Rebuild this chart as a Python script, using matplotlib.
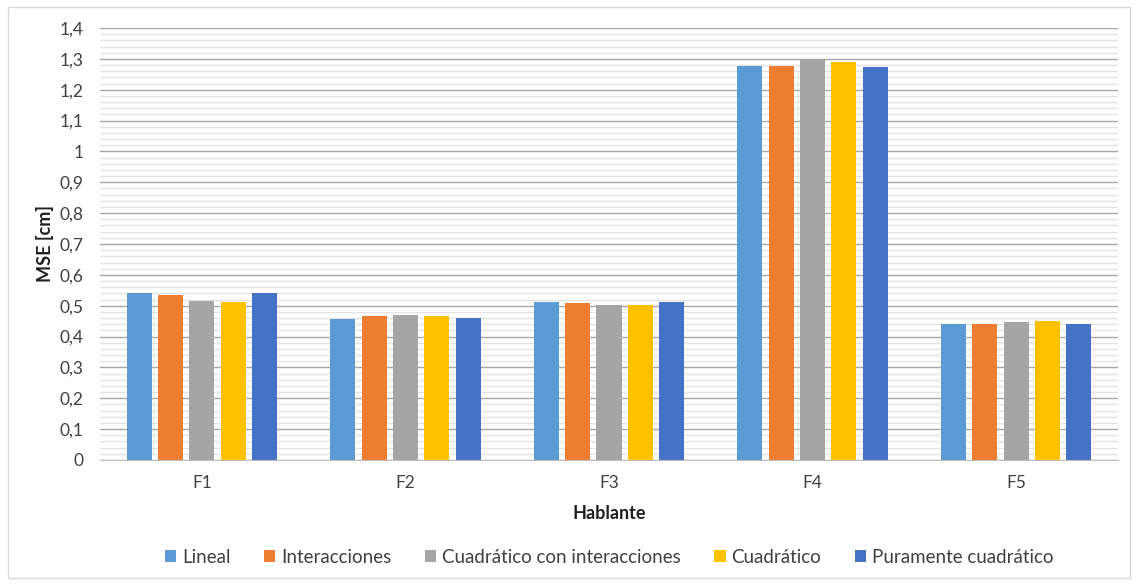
import numpy as np
import matplotlib.pyplot as plt
from matplotlib.patches import Rectangle
from matplotlib.ticker import MultipleLocator, FuncFormatter

plt.rcParams['font.family'] = ['Lato', 'DejaVu Sans']

hablantes = ["F1", "F2", "F3", "F4", "F5"]
series = ["Lineal", "Interacciones", "Cuadrático con interacciones",
          "Cuadrático", "Puramente cuadrático"]
lineal = [0.542, 0.457, 0.513, 1.276, 0.440]
interacciones = [0.534, 0.467, 0.509, 1.276, 0.441]
cuad_inter = [0.516, 0.471, 0.502, 1.296, 0.447]
cuadratico = [0.512, 0.467, 0.502, 1.291, 0.450]
puramente = [0.541, 0.460, 0.511, 1.272, 0.442]
valores = [lineal, interacciones, cuad_inter, cuadratico, puramente]
colores = ["#5B9BD5", "#ED7D31", "#A5A5A5", "#FFC000", "#4472C4"]

fig = plt.figure(figsize=(11.38, 5.85), dpi=100)
ax = fig.add_axes([100/1138, 1 - 460/585, 1018/1138, 432/585])

x = np.arange(len(hablantes))
paso = 0.154
ancho = 0.123
for i, (nombre, vals, col) in enumerate(zip(series, valores, colores)):
    ax.bar(x + (i - 2) * paso, vals, width=ancho, color=col, label=nombre,
           zorder=3)

ax.set_xlim(-0.5, 4.5)
ax.set_ylim(0, 1.4)
ax.yaxis.set_major_locator(MultipleLocator(0.1))
ax.yaxis.set_minor_locator(MultipleLocator(0.02))
ax.yaxis.set_major_formatter(FuncFormatter(
    lambda v, p: ("%.1f" % v).rstrip("0").rstrip(".").replace(".", ",") if v else "0"))
ax.grid(which="major", axis="y", color="#A6A6A6", lw=1, zorder=0)
ax.grid(which="minor", axis="y", color="#E3E3E3", lw=1, zorder=0)
ax.set_xticks(x)
ax.set_xticklabels(hablantes)
ax.tick_params(axis="both", which="both", length=0, labelsize=12.5,
               colors="#404040")
ax.tick_params(axis="x", pad=11)
ax.tick_params(axis="y", pad=12)
for lado in ["top", "right", "left"]:
    ax.spines[lado].set_visible(False)
ax.spines["bottom"].set_color("#BFBFBF")
ax.spines["bottom"].set_zorder(4)

ax.set_ylabel("MSE [cm]", fontsize=13, fontweight="bold", color="#202020",
              labelpad=4)
ax.set_xlabel("Hablante", fontsize=13, fontweight="bold", color="#202020",
              labelpad=10)

ax.legend(loc="center", bbox_to_anchor=(0.5, -0.225), ncol=5, frameon=False,
          fontsize=13.5, handlelength=0.6, handleheight=0.6, handletextpad=0.3,
          columnspacing=1.8, labelcolor="#404040")

fig.patches.append(Rectangle((8/1138, 1 - 578/585), 1122/1138, 571/585,
                             transform=fig.transFigure, fill=False,
                             edgecolor="#D9D9D9", lw=1))

fig.savefig("out.png", dpi=100)
